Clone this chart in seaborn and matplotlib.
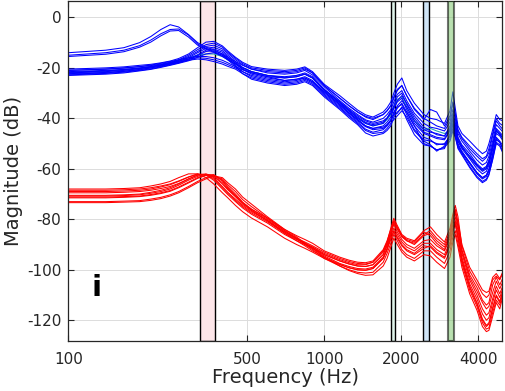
import matplotlib
matplotlib.use('Agg')
import pandas as pd
from matplotlib import pyplot as plt
import seaborn as sns

# Frequency grid shared by every curve (Hz)
freq_hz = [100, 140, 165, 190, 210, 230, 250, 270, 295, 320,
           345, 370, 400, 420, 450, 480, 520, 600, 700, 780,
           840, 900, 1000, 1150, 1250, 1350, 1450, 1550, 1700, 1760,
           1820, 1870, 1930, 2010, 2100, 2250, 2450, 2600, 2750, 2950,
           3100, 3180, 3250, 3330, 3450, 3700, 3950, 4150, 4300, 4400,
           4550, 4700, 4850, 5000]

# Blue family (dB)
blue_a1 = [-14.0, -13.0, -12.0, -10.0, -7.6, -4.8, -2.9, -3.8, -6.8, -10.0,
           -11.8, -12.8, -14.5, -15.8, -17.5, -19.0, -20.5, -21.5, -22.0, -21.5,
           -20.5, -22.0, -27.0, -32.0, -35.0, -37.5, -39.2, -40.0, -38.5, -37.0,
           -35.0, -32.0, -29.0, -27.0, -31.0, -36.0, -40.0, -41.5, -43.0, -44.0,
           -40.0, -34.0, -39.0, -45.0, -48.0, -52.0, -55.0, -57.0, -55.5, -53.5,
           -47.0, -41.0, -43.0, -44.5]
blue_a2 = [-15.0, -14.0, -13.0, -11.2, -9.0, -6.5, -4.8, -4.6, -7.0, -10.5,
           -12.3, -13.5, -15.0, -16.3, -18.0, -20.0, -21.5, -23.0, -24.0, -23.5,
           -22.5, -24.0, -28.5, -33.5, -36.5, -39.0, -41.0, -42.0, -41.0, -39.8,
           -38.0, -36.0, -33.0, -31.0, -34.0, -39.0, -43.5, -45.0, -46.5, -47.0,
           -44.0, -39.0, -42.5, -48.0, -51.0, -55.5, -59.0, -61.0, -60.0, -58.0,
           -51.5, -45.0, -46.5, -48.0]
blue_a3 = [-15.5, -14.6, -13.6, -11.8, -9.8, -7.3, -5.4, -5.2, -7.8, -11.0,
           -12.6, -13.8, -15.5, -16.8, -18.5, -20.5, -22.0, -23.5, -25.0, -24.5,
           -24.0, -25.5, -29.5, -34.5, -37.8, -40.5, -43.0, -44.0, -43.5, -42.5,
           -41.0, -38.5, -36.0, -34.0, -37.5, -43.0, -47.5, -48.5, -50.5, -50.0,
           -47.0, -42.0, -45.0, -50.0, -53.0, -57.5, -61.5, -63.5, -62.5, -60.5,
           -54.5, -48.0, -49.5, -52.0]
blue_b1 = [-20.5, -20.0, -19.6, -19.0, -18.6, -18.0, -17.3, -16.3, -14.5, -12.0,
           -9.8, -9.5, -11.3, -13.3, -15.8, -17.8, -19.5, -20.5, -21.0, -20.5,
           -19.6, -21.5, -26.5, -31.0, -34.0, -36.7, -38.6, -39.5, -37.5, -35.8,
           -33.5, -30.0, -26.5, -24.0, -29.0, -34.0, -38.5, -40.0, -40.5, -42.0,
           -37.0, -29.5, -36.0, -43.0, -46.0, -49.0, -52.0, -54.0, -53.0, -50.0,
           -44.5, -38.5, -40.5, -41.0]
blue_b2 = [-21.0, -20.5, -20.1, -19.5, -19.1, -18.5, -17.8, -16.8, -15.0, -12.8,
           -10.8, -10.2, -11.8, -13.8, -16.2, -18.3, -20.0, -21.0, -21.5, -21.0,
           -20.0, -22.0, -27.0, -32.0, -35.0, -37.5, -39.5, -40.5, -38.5, -37.0,
           -35.0, -31.5, -28.5, -27.0, -31.0, -36.5, -40.5, -36.5, -37.5, -43.0,
           -39.0, -33.5, -38.0, -44.5, -47.5, -51.0, -54.0, -56.0, -55.0, -52.0,
           -46.0, -40.0, -42.0, -43.0]
blue_b3 = [-21.5, -21.0, -20.6, -20.0, -19.5, -18.8, -18.0, -17.0, -15.5, -13.5,
           -11.5, -11.0, -12.5, -14.3, -16.8, -18.8, -20.5, -22.0, -22.5, -22.0,
           -21.0, -22.8, -27.5, -33.0, -36.0, -38.5, -40.6, -41.5, -40.0, -38.5,
           -36.5, -33.5, -30.5, -29.0, -33.0, -38.0, -42.0, -43.5, -44.0, -45.0,
           -41.5, -36.5, -40.0, -46.0, -49.0, -53.0, -56.5, -58.5, -57.5, -55.0,
           -49.0, -42.5, -44.0, -45.5]
blue_b4 = [-22.0, -21.5, -21.0, -20.3, -19.7, -19.0, -18.3, -17.5, -16.0, -14.0,
           -12.3, -11.8, -13.2, -15.0, -17.5, -19.8, -21.5, -23.0, -23.5, -23.0,
           -22.0, -23.5, -28.5, -33.5, -36.8, -39.5, -41.6, -42.5, -41.5, -40.0,
           -38.0, -35.0, -31.5, -30.0, -34.5, -40.0, -44.5, -45.5, -46.0, -47.0,
           -43.0, -38.0, -41.5, -47.5, -50.5, -54.0, -58.0, -60.0, -59.0, -56.5,
           -50.5, -44.0, -45.5, -47.0]
blue_b5 = [-22.3, -21.8, -21.3, -20.6, -20.0, -19.3, -18.5, -17.8, -16.5, -14.8,
           -13.0, -12.5, -13.8, -15.6, -18.2, -20.6, -22.5, -24.0, -25.0, -24.5,
           -23.5, -25.0, -29.5, -34.5, -37.8, -40.5, -43.0, -44.0, -43.0, -41.5,
           -39.5, -36.0, -33.5, -32.0, -36.5, -42.0, -46.0, -47.0, -48.0, -48.5,
           -45.0, -40.0, -43.5, -49.0, -52.0, -56.0, -60.0, -62.0, -61.0, -58.5,
           -52.5, -46.0, -47.0, -49.0]
blue_b6 = [-22.8, -22.2, -21.7, -21.0, -20.4, -19.6, -18.8, -18.0, -16.8, -15.2,
           -13.5, -13.2, -14.5, -16.3, -19.0, -21.5, -23.5, -25.0, -26.0, -25.5,
           -24.5, -26.0, -30.5, -35.5, -38.8, -41.5, -44.3, -45.5, -44.5, -43.0,
           -41.0, -37.5, -35.5, -34.5, -38.5, -44.5, -48.5, -49.0, -50.0, -50.5,
           -47.0, -42.5, -45.5, -50.5, -53.5, -57.5, -61.5, -63.5, -62.5, -60.0,
           -54.0, -47.5, -49.0, -51.0]
blue_b7 = [-23.0, -22.5, -22.0, -21.2, -20.6, -19.8, -19.0, -18.2, -17.2, -15.8,
           -14.5, -14.0, -15.0, -16.8, -19.5, -22.3, -24.5, -26.0, -27.0, -26.5,
           -25.5, -27.0, -31.5, -36.5, -39.8, -42.5, -45.8, -47.0, -46.0, -44.8,
           -43.0, -39.5, -37.5, -36.0, -40.5, -46.5, -50.5, -51.0, -52.5, -51.5,
           -49.0, -45.0, -47.5, -51.5, -54.0, -59.0, -63.0, -65.0, -64.0, -62.0,
           -56.5, -50.0, -51.0, -54.0]
blue_c1 = [-21.0, -20.5, -20.0, -19.5, -18.9, -18.2, -17.5, -16.8, -16.0, -15.5,
           -15.5, -16.0, -17.0, -18.0, -19.5, -20.8, -22.0, -23.5, -24.0, -23.5,
           -22.5, -24.0, -29.0, -34.0, -37.2, -40.0, -42.0, -43.0, -42.0, -40.0,
           -37.0, -38.0, -35.0, -33.0, -35.5, -41.0, -45.5, -46.5, -47.5, -48.0,
           -44.5, -40.5, -44.0, -49.0, -51.5, -55.0, -58.5, -60.5, -59.5, -57.0,
           -51.0, -44.5, -46.0, -48.0]
blue_c2 = [-21.8, -21.2, -20.7, -20.2, -19.5, -18.8, -18.0, -17.3, -16.5, -16.0,
           -16.2, -16.8, -17.8, -18.7, -20.0, -21.5, -23.0, -24.5, -25.5, -25.0,
           -24.0, -25.5, -30.0, -35.0, -38.2, -41.0, -43.3, -44.5, -44.0, -42.5,
           -40.5, -38.5, -38.0, -35.5, -37.5, -43.0, -50.0, -51.0, -52.5, -52.0,
           -46.0, -42.5, -46.5, -51.0, -53.5, -58.0, -62.0, -64.0, -63.0, -61.0,
           -55.0, -48.5, -49.5, -52.5]
blue_c3 = [-22.5, -22.0, -21.4, -20.8, -20.0, -19.3, -18.5, -17.8, -17.0, -16.5,
           -16.8, -17.5, -18.5, -19.4, -20.5, -22.3, -24.0, -25.5, -26.5, -26.0,
           -25.0, -26.5, -31.0, -36.0, -39.2, -42.0, -44.8, -46.0, -45.5, -44.0,
           -42.0, -40.5, -39.0, -37.0, -39.5, -45.0, -49.0, -50.5, -53.0, -51.0,
           -48.0, -44.0, -47.0, -52.0, -54.5, -59.5, -63.5, -65.5, -64.5, -62.5,
           -56.0, -49.5, -50.5, -53.5]
teal_t1 = [-21.8, -21.3, -20.8, -20.1, -19.5, -18.9, -18.2, -17.3, -16.0, -15.0,
           -14.5, -14.5, -15.5, -16.8, -18.5, -20.0, -21.5, -23.0, -23.8, -23.0,
           -22.5, -24.0, -28.8, -33.8, -37.0, -39.8, -42.0, -43.0, -42.0, -40.5,
           -38.5, -35.5, -32.5, -31.5, -35.5, -41.0, -44.5, -44.0, -45.0, -46.0,
           -45.0, -41.5, -44.0, -48.5, -51.5, -55.0, -58.5, -60.5, -59.5, -57.0,
           -51.0, -45.0, -46.5, -48.0]

# Red family (dB)
red_r1 = [-68.0, -68.0, -67.8, -67.5, -66.8, -66.0, -65.0, -63.5, -62.0, -62.0,
          -63.5, -66.0, -69.5, -71.5, -74.5, -77.0, -79.5, -83.0, -87.5, -90.0,
          -91.5, -93.0, -95.5, -98.0, -99.2, -100.0, -100.2, -99.5, -95.5, -92.0,
          -86.0, -81.5, -84.0, -87.0, -88.5, -89.5, -86.0, -84.5, -87.5, -90.0,
          -85.0, -79.0, -76.0, -82.0, -92.0, -102.0, -107.0, -112.0, -114.0, -113.0,
          -106.0, -103.0, -106.0, -103.0]
red_r2 = [-68.5, -68.5, -68.3, -68.0, -67.5, -66.8, -66.0, -64.8, -63.2, -62.0,
          -62.3, -64.0, -67.5, -69.7, -72.5, -75.0, -77.5, -81.0, -85.5, -88.0,
          -89.5, -91.0, -93.5, -96.0, -97.2, -98.0, -98.0, -97.0, -92.5, -89.0,
          -83.5, -79.6, -82.5, -86.0, -87.5, -88.5, -84.5, -83.0, -86.0, -89.0,
          -83.5, -78.0, -74.5, -79.0, -90.5, -100.5, -105.5, -109.5, -111.0, -110.0,
          -104.0, -102.5, -104.0, -101.0]
red_r3 = [-69.5, -69.5, -69.3, -69.0, -68.5, -67.8, -67.0, -65.8, -64.0, -62.5,
          -62.0, -63.0, -66.0, -68.3, -71.0, -73.5, -76.0, -79.5, -84.0, -86.5,
          -88.0, -89.5, -92.5, -95.0, -96.2, -97.0, -97.2, -96.5, -92.0, -88.5,
          -84.0, -81.0, -83.5, -86.5, -88.5, -90.0, -86.5, -85.5, -88.5, -91.0,
          -86.0, -80.5, -77.5, -83.0, -92.5, -103.0, -108.5, -113.0, -115.5, -114.5,
          -109.0, -104.5, -107.5, -104.5]
red_r4 = [-70.5, -70.5, -70.3, -70.0, -69.3, -68.5, -67.5, -66.0, -64.0, -62.5,
          -62.2, -63.5, -67.0, -69.3, -72.0, -74.5, -77.0, -80.5, -85.0, -87.5,
          -89.0, -90.5, -93.0, -95.5, -96.7, -97.5, -97.7, -97.0, -93.0, -89.5,
          -85.0, -82.0, -85.0, -88.0, -90.0, -91.5, -88.5, -88.0, -90.5, -92.5,
          -87.5, -82.0, -79.0, -84.5, -93.5, -104.0, -110.0, -115.5, -118.0, -117.0,
          -111.5, -106.5, -109.5, -106.0]
red_r5 = [-70.8, -70.8, -70.6, -70.3, -69.7, -69.0, -68.0, -66.5, -64.5, -63.0,
          -62.2, -62.8, -65.5, -68.0, -71.0, -74.0, -76.5, -80.5, -85.0, -87.8,
          -89.5, -91.0, -94.0, -96.5, -97.7, -98.5, -98.7, -98.0, -94.0, -90.5,
          -86.5, -83.5, -86.0, -89.0, -91.0, -92.5, -89.5, -89.5, -92.0, -94.0,
          -89.0, -83.5, -80.5, -86.0, -95.0, -105.5, -111.5, -117.5, -120.0, -119.0,
          -113.0, -108.0, -111.0, -107.0]
red_r6 = [-71.2, -71.2, -71.0, -70.8, -70.2, -69.5, -68.6, -67.2, -65.3, -63.5,
          -62.5, -62.3, -64.5, -67.0, -70.0, -73.2, -76.0, -80.0, -84.5, -87.5,
          -89.5, -91.5, -94.5, -97.5, -98.7, -99.5, -99.7, -99.0, -95.0, -91.5,
          -87.5, -84.5, -87.0, -90.0, -92.0, -93.5, -90.5, -91.0, -93.5, -95.5,
          -90.5, -85.0, -82.0, -87.5, -96.0, -106.5, -113.0, -119.5, -122.0, -121.0,
          -115.0, -110.0, -112.5, -108.0]
red_r7 = [-73.0, -73.0, -72.8, -72.6, -72.0, -71.3, -70.3, -69.0, -67.0, -65.0,
          -63.5, -62.8, -64.0, -66.3, -69.0, -72.2, -75.0, -79.5, -84.5, -87.5,
          -90.0, -92.0, -95.5, -98.5, -100.0, -101.0, -101.3, -101.0, -97.0, -93.5,
          -89.5, -86.0, -88.5, -92.0, -94.0, -95.5, -92.5, -92.5, -95.0, -97.5,
          -92.5, -87.0, -84.5, -89.5, -97.5, -108.0, -114.5, -121.0, -123.5, -123.0,
          -117.0, -112.0, -114.0, -109.0]
red_r8 = [-73.4, -73.4, -73.2, -73.0, -72.5, -71.8, -70.8, -69.5, -67.5, -65.5,
          -64.0, -62.8, -63.5, -65.5, -68.0, -71.2, -74.0, -79.0, -84.0, -87.0,
          -89.5, -91.5, -95.0, -98.5, -100.3, -101.5, -102.2, -102.0, -98.5, -95.5,
          -91.0, -87.5, -90.0, -93.0, -95.0, -96.5, -94.0, -94.5, -97.0, -99.5,
          -95.0, -89.0, -86.0, -91.0, -99.0, -109.5, -116.0, -122.5, -124.5, -124.0,
          -118.5, -113.0, -115.5, -110.0]
red_r9 = [-69.0, -69.0, -68.8, -68.5, -68.0, -67.2, -66.3, -65.0, -63.3, -62.2,
          -62.5, -64.5, -68.0, -70.2, -73.0, -75.5, -78.0, -81.5, -86.0, -88.5,
          -90.0, -91.5, -94.0, -96.5, -97.7, -98.5, -98.7, -98.0, -94.0, -90.0,
          -85.5, -80.5, -83.0, -86.5, -88.0, -89.0, -85.0, -86.5, -89.5, -92.0,
          -86.5, -80.0, -76.5, -81.0, -90.0, -99.0, -104.0, -108.0, -109.0, -108.5,
          -103.0, -101.5, -103.5, -100.5]
red_r10 = [-71.5, -71.5, -71.3, -71.0, -70.5, -69.8, -68.9, -67.5, -65.6, -63.8,
           -62.6, -62.5, -64.8, -67.5, -70.5, -73.5, -76.5, -80.5, -85.5, -88.5,
           -90.5, -92.5, -95.0, -97.8, -99.2, -100.0, -100.2, -99.5, -95.5, -92.0,
           -88.0, -85.0, -87.5, -90.5, -92.5, -94.0, -91.5, -90.5, -93.0, -95.0,
           -90.0, -84.0, -81.5, -87.0, -96.5, -107.0, -113.5, -120.0, -122.5, -121.5,
           -115.5, -110.5, -113.0, -108.5]

blue_set = [blue_a1, blue_a2, blue_a3, blue_b1, blue_b2, blue_b3, blue_b4,
            blue_b5, blue_b6, blue_b7, blue_c1, blue_c2, blue_c3]
red_set = [red_r1, red_r2, red_r3, red_r4, red_r5, red_r6, red_r7, red_r8, red_r9, red_r10]

# Highlighted frequency bands (Hz)
band_lo = [328, 1822, 2436, 3051]
band_hi = [375, 1882, 2557, 3219]
band_fill = ['#fde6e9', '#dff3ea', '#cfe4f6', '#80c770']

# Build long-form table
rows = []
for fam, curves in [('teal', [teal_t1]), ('blue', blue_set), ('red', red_set)]:
    for k, vals in enumerate(curves):
        assert len(vals) == len(freq_hz), (fam, k, len(vals))
        for f, v in zip(freq_hz, vals):
            rows.append({'freq': f, 'mag': v, 'group': fam, 'curve': '%s%d' % (fam, k)})
df = pd.DataFrame(rows)

sns.set_theme(style='whitegrid')
plt.rcParams['font.family'] = ['DejaVu Sans']
plt.rcParams['axes.unicode_minus'] = False

fig = plt.figure(figsize=(5.05, 3.91), dpi=100)
ax = fig.add_axes([0.1352, 0.128, 0.8598, 0.8682])
ax.set_xscale('log')

# bands behind the curves (except the green one, drawn translucent on top)
for lo, hi, c in zip(band_lo[:3], band_hi[:3], band_fill[:3]):
    ax.axvspan(lo, hi, facecolor=c, edgecolor='black', lw=1.0, zorder=1)

sns.lineplot(data=df, x='freq', y='mag', hue='group', units='curve', estimator=None,
             palette={'teal': '#1f9fb0', 'blue': '#0000ff', 'red': '#ff0000'},
             lw=0.75, legend=False, ax=ax, zorder=2)

ax.axvspan(band_lo[3], band_hi[3], facecolor=band_fill[3], edgecolor='black',
           lw=1.5, alpha=0.55, zorder=3)

ax.set_xlim(100, 4970)
ax.set_ylim(-128.2, 6.3)
ax.set_xticks([100, 500, 1000, 2000, 4000])
ax.set_xticklabels(['100', '500', '1000', '2000', '4000'])
ax.minorticks_off()
ax.set_yticks([0, -20, -40, -60, -80, -100, -120])

ax.grid(True, color='#dcdcdc', lw=0.7)
ax.set_facecolor('white')
for s in ax.spines.values():
    s.set_color('#262626')
    s.set_linewidth(0.9)
ax.tick_params(axis='both', which='both', direction='in', length=4, width=0.8,
               colors='#262626', labelsize=11, top=True, right=True,
               bottom=True, left=True)
ax.tick_params(axis='x', pad=8)
ax.tick_params(axis='y', pad=5)
ax.set_xlabel('Frequency (Hz)', fontsize=14, color='#262626', labelpad=1)
ax.set_ylabel('Magnitude (dB)', fontsize=14, color='#262626', labelpad=3)

ax.text(0.065, 0.156, 'i', transform=ax.transAxes, fontsize=21, fontweight='bold',
        color='black', ha='center', va='center')

fig.savefig('out.png', dpi=100)
plt.close()
